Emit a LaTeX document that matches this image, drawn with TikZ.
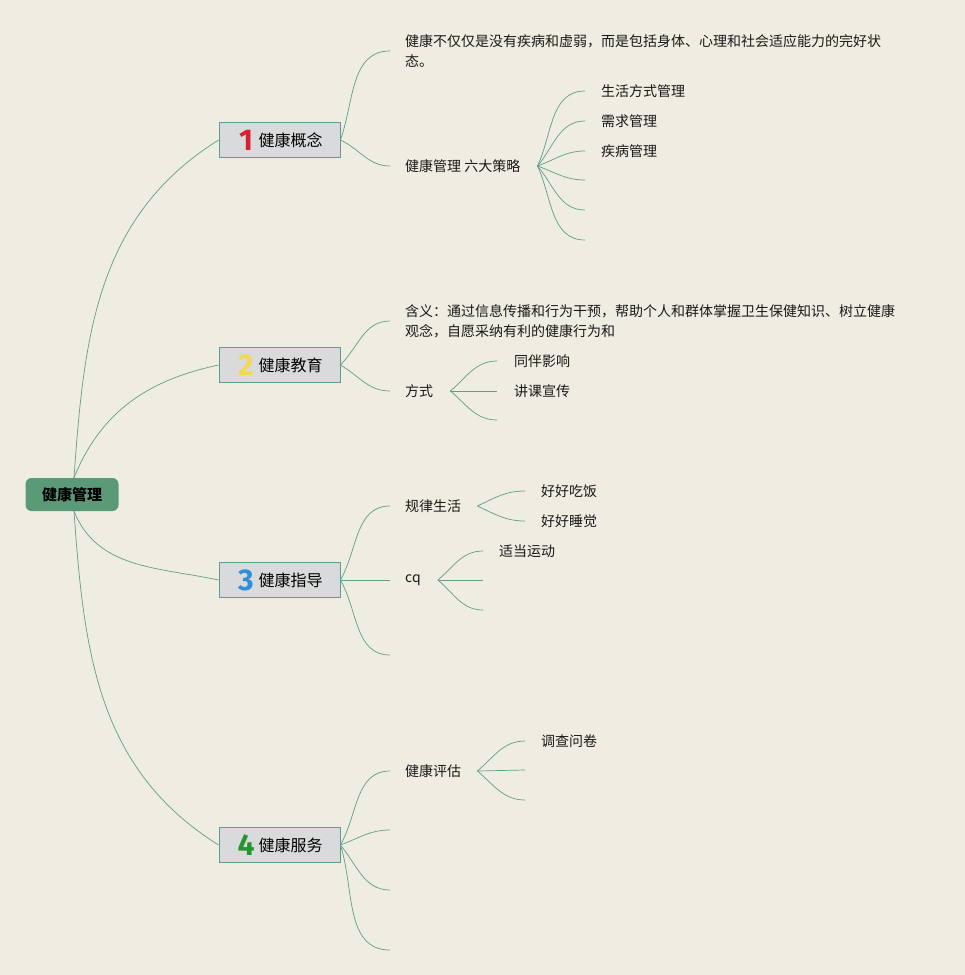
\documentclass[tikz,border=0pt]{standalone}
\usepackage{fontspec}
\setmainfont{Noto Sans CJK SC}
\newfontfamily\numfont{Fira Sans}
\usepackage{tikz}

\definecolor{bgc}{HTML}{EFECE2}
\definecolor{linkc}{HTML}{5F9E88}
\definecolor{rootc}{HTML}{5A9A77}
\definecolor{boxc}{HTML}{D9DADB}
\definecolor{boxline}{HTML}{5E9C8E}
\definecolor{onec}{HTML}{D9202F}
\definecolor{twoc}{HTML}{F4D84C}
\definecolor{threec}{HTML}{2E8FD9}
\definecolor{fourc}{HTML}{23962E}

\tikzset{
  link/.style={draw=linkc, line width=0.7pt},
  rootbox/.style={fill=rootc, rounded corners=6pt, minimum width=93pt, minimum height=33pt, font=\fontsize{15}{18}\selectfont\bfseries},
  topicbox/.style={fill=boxc, draw=boxline, line width=0.8pt, minimum width=121pt, minimum height=35pt, font=\fontsize{16}{19}\selectfont},
  numtag/.style={inner sep=0pt, font=\numfont\bfseries\fontsize{30}{30}\selectfont},
  leaf/.style={anchor=west, inner sep=0pt, text=black!90, font=\fontsize{14}{20}\selectfont, align=left},
}

\begin{document}
\begin{tikzpicture}[x=1pt,y=-1pt]
    \fill[bgc] (0,0) rectangle (965,975);
    \useasboundingbox (0,0) rectangle (965,975);

    % root and the four topics
    \node[rootbox] (root) at (72,494.5) {健康管理};
    \node[topicbox] (c1) at (279.5,140) {\hspace{22pt}健康概念};
    \node[topicbox] (c2) at (279.5,365) {\hspace{22pt}健康教育};
    \node[topicbox] (c3) at (279.5,580) {\hspace{22pt}健康指导};
    \node[topicbox] (c4) at (279.5,845) {\hspace{22pt}健康服务};
    \node[numtag, text=onec] (n1) at (246,140) {1};
    \node[numtag, text=twoc] (n2) at (246,365) {2};
    \node[numtag, text=threec] (n3) at (246,580) {3};
    \node[numtag, text=fourc] (n4) at (246,845) {4};

    \draw[link] ([xshift=2pt]root.north) to[out=86,in=212] (c1.west);
    \draw[link] ([xshift=2pt]root.north) to[out=68,in=192] (c2.west);
    \draw[link] ([xshift=2pt]root.south) to[out=-68,in=168] (c3.west);
    \draw[link] ([xshift=2pt]root.south) to[out=-86,in=148] (c4.west);

    % 健康概念
    \node[leaf] (d1) at (405,51) {健康不仅仅是没有疾病和虚弱，而是包括身体、心理和社会适应能力的完好状\\态。};
    \node[leaf] (s1) at (405,166) {健康管理 六大策略};
    \draw[link] (c1.east) to[out=70,in=180] ([xshift=-15pt]d1.west);
    \draw[link] (c1.east) to[out=-25,in=180] ([xshift=-15pt]s1.west);

    \node[leaf] (s11) at (601,91) {生活方式管理};
    \node[leaf] (s12) at (601,121) {需求管理};
    \node[leaf] (s13) at (601,151) {疾病管理};
    \coordinate (s14) at (585,180);
    \coordinate (s15) at (585,210);
    \coordinate (s16) at (585,240);
    \draw[link] ([xshift=17pt]s1.east) to[out=65,in=180] ([xshift=-16pt]s11.west);
    \draw[link] ([xshift=17pt]s1.east) to[out=50,in=180] ([xshift=-16pt]s12.west);
    \draw[link] ([xshift=17pt]s1.east) to[out=20,in=180] ([xshift=-16pt]s13.west);
    \draw[link] ([xshift=17pt]s1.east) to[out=-20,in=180] (s14);
    \draw[link] ([xshift=17pt]s1.east) to[out=-50,in=180] (s15);
    \draw[link] ([xshift=17pt]s1.east) to[out=-65,in=180] (s16);

    % 健康教育
    \node[leaf] (d2) at (405,321) {含义：通过信息传播和行为干预，帮助个人和群体掌握卫生保健知识、树立健康\\观念，自愿采纳有利的健康行为和};
    \node[leaf] (w2) at (405,391) {方式};
    \draw[link] (c2.east) to[out=45,in=180] ([xshift=-15pt]d2.west);
    \draw[link] (c2.east) to[out=-30,in=180] ([xshift=-15pt]w2.west);

    \node[leaf] (w21) at (514,361) {同伴影响};
    \node[leaf] (w22) at (514,391) {讲课宣传};
    \coordinate (w23) at (497,420);
    \draw[link] ([xshift=17pt]w2.east) to[out=40,in=180] ([xshift=-17pt]w21.west);
    \draw[link] ([xshift=17pt]w2.east) -- ([xshift=-17pt]w22.west);
    \draw[link] ([xshift=17pt]w2.east) to[out=-40,in=180] (w23);

    % 健康指导
    \node[leaf] (g1) at (405,506) {规律生活};
    \node[leaf] (g2) at (405,580) {cq};
    \coordinate (g3) at (390,655);
    \draw[link] (c3.east) to[out=60,in=180] ([xshift=-15pt]g1.west);
    \draw[link] (c3.east) -- ([xshift=-15pt]g2.west);
    \draw[link] (c3.east) to[out=-60,in=180] (g3);

    \node[leaf] (g11) at (541,491) {好好吃饭};
    \node[leaf] (g12) at (541,521) {好好睡觉};
    \draw[link] ([xshift=16pt]g1.east) to[out=25,in=180] ([xshift=-16pt]g11.west);
    \draw[link] ([xshift=16pt]g1.east) to[out=-25,in=180] ([xshift=-16pt]g12.west);

    \node[leaf] (g21) at (499,551) {适当运动};
    \coordinate (g22) at (483,580);
    \coordinate (g23) at (483,610);
    \draw[link] ([xshift=17pt]g2.east) to[out=40,in=180] ([xshift=-16pt]g21.west);
    \draw[link] ([xshift=17pt]g2.east) -- (g22);
    \draw[link] ([xshift=17pt]g2.east) to[out=-40,in=180] (g23);

    % 健康服务
    \node[leaf] (h1) at (405,771) {健康评估};
    \coordinate (h2) at (390,830);
    \coordinate (h3) at (390,890);
    \coordinate (h4) at (390,950);
    \draw[link] (c4.east) to[out=60,in=180] ([xshift=-15pt]h1.west);
    \draw[link] (c4.east) to[out=20,in=180] (h2);
    \draw[link] (c4.east) to[out=-50,in=180] (h3);
    \draw[link] (c4.east) to[out=-72,in=180] (h4);

    \node[leaf] (h11) at (541,741) {调查问卷};
    \coordinate (h12) at (525,770);
    \coordinate (h13) at (525,800);
    \draw[link] ([xshift=16pt]h1.east) to[out=40,in=180] ([xshift=-16pt]h11.west);
    \draw[link] ([xshift=16pt]h1.east) -- (h12);
    \draw[link] ([xshift=16pt]h1.east) to[out=-40,in=180] (h13);
\end{tikzpicture}
\end{document}
